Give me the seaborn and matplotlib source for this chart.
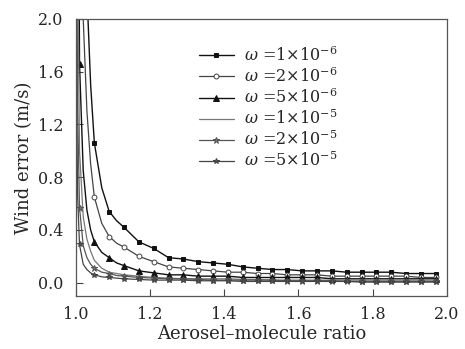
import seaborn as sns
import pandas as pd
import matplotlib.pyplot as plt
import numpy as np

# aerosol-molecule ratio sample positions
ratio = [1.002, 1.005, 1.01, 1.02, 1.03, 1.04, 1.05, 1.07, 1.09, 1.11, 1.13,
         1.17, 1.21, 1.25, 1.29, 1.33, 1.37, 1.41, 1.45, 1.49, 1.53, 1.57,
         1.61, 1.65, 1.69, 1.73, 1.77, 1.81, 1.85, 1.89, 1.93, 1.97]
marker_idx = [2, 6, 8, 10] + list(range(11, 32))

err_1e6 = [40, 20, 8, 3.6, 2.2, 1.5, 1.06, 0.72, 0.54, 0.47, 0.42, 0.31, 0.26, 0.19, 0.18, 0.16,
           0.15, 0.14, 0.12, 0.11, 0.10, 0.10, 0.09, 0.09, 0.09, 0.08, 0.08, 0.08, 0.08, 0.07, 0.07, 0.07]
err_2e6 = [30, 12, 4.5, 2.0, 1.3, 0.9, 0.65, 0.45, 0.35, 0.30, 0.27, 0.20, 0.16, 0.12, 0.11, 0.10,
           0.09, 0.08, 0.08, 0.07, 0.07, 0.06, 0.06, 0.06, 0.05, 0.05, 0.05, 0.05, 0.05, 0.05, 0.04, 0.04]
err_5e6 = [12, 5, 1.66, 0.85, 0.55, 0.40, 0.31, 0.23, 0.19, 0.15, 0.13, 0.09, 0.075, 0.06, 0.06, 0.05,
           0.05, 0.05, 0.04, 0.04, 0.04, 0.04, 0.04, 0.04, 0.03, 0.03, 0.03, 0.03, 0.03, 0.03, 0.03, 0.03]
err_1e5 = [6, 2.5, 1.0, 0.5, 0.33, 0.24, 0.17, 0.11, 0.08, 0.07, 0.06, 0.05, 0.04, 0.035, 0.03, 0.03,
           0.03, 0.03, 0.025, 0.025, 0.02, 0.02, 0.02, 0.02, 0.02, 0.02, 0.02, 0.02, 0.02, 0.02, 0.02, 0.02]
err_2e5 = [3.0, 1.3, 0.57, 0.28, 0.19, 0.14, 0.11, 0.08, 0.07, 0.055, 0.05, 0.04, 0.035, 0.03, 0.03, 0.025,
           0.02, 0.02, 0.02, 0.02, 0.02, 0.015, 0.015, 0.015, 0.015, 0.01, 0.01, 0.01, 0.01, 0.01, 0.01, 0.01]
err_5e5 = [1.5, 0.65, 0.29, 0.14, 0.10, 0.075, 0.06, 0.045, 0.04, 0.035, 0.03, 0.025, 0.02, 0.02, 0.02, 0.015,
           0.015, 0.015, 0.01, 0.01, 0.01, 0.01, 0.01, 0.01, 0.01, 0.01, 0.005, 0.005, 0.005, 0.005, 0.005, 0.005]

labels = [r'$\omega$ =1$\times$10$^{-6}$', r'$\omega$ =2$\times$10$^{-6}$', r'$\omega$ =5$\times$10$^{-6}$',
          r'$\omega$ =1$\times$10$^{-5}$', r'$\omega$ =2$\times$10$^{-5}$', r'$\omega$ =5$\times$10$^{-5}$']
series = [err_1e6, err_2e6, err_5e6, err_1e5, err_2e5, err_5e5]

styles = [
    dict(color='#111111', marker='s', markersize=3.5, mfc='#111111', lw=1.0),
    dict(color='#444444', marker='o', markersize=3.5, mfc='white', lw=0.9),
    dict(color='#111111', marker='^', markersize=4.5, mfc='#111111', lw=1.0),
    dict(color='#777777', marker=None, markersize=0, mfc='none', lw=0.9),
    dict(color='#555555', marker='*', markersize=5, mfc='#777777', lw=0.9),
    dict(color='#444444', marker='*', markersize=4, mfc='#555555', lw=0.9),
]

sns.set_style('ticks')
plt.rcParams['font.family'] = ['DejaVu Serif']
plt.rcParams['mathtext.fontset'] = 'dejavuserif'

fig, ax = plt.subplots(figsize=(4.65, 3.49), dpi=100)
fig.subplots_adjust(left=0.163, right=0.961, top=0.946, bottom=0.152)

for vals, lab, st in zip(series, labels, styles):
    df = pd.DataFrame({'ratio': ratio, 'err': vals})
    sns.lineplot(data=df, x='ratio', y='err', ax=ax, label=lab, color=st['color'],
                 linewidth=st['lw'], marker=st['marker'], markersize=st['markersize'],
                 markerfacecolor=st['mfc'], markeredgecolor=st['color'], markeredgewidth=0.7,
                 markevery=marker_idx if st['marker'] else None)

ax.set_xlim(1.0, 1.99)
ax.set_ylim(-0.1, 2.0)
ax.set_xticks(np.arange(1.0, 2.01, 0.2))
ax.set_yticks(np.arange(0.0, 2.01, 0.4))
ax.set_xticklabels(['1.0', '1.2', '1.4', '1.6', '1.8', '2.0'])
ax.set_yticklabels(['0.0', '0.4', '0.8', '1.2', '1.6', '2.0'])
ax.tick_params(direction='in', length=5, width=0.8, labelsize=11.5, color='#444444')
ax.tick_params(axis='x', pad=7)
ax.tick_params(axis='y', pad=9)
for sp in ax.spines.values():
    sp.set_color('#555555')
    sp.set_linewidth(0.9)
    sp.set_visible(True)

ax.set_xlabel('Aerosel\u2013molecule ratio', fontsize=13, labelpad=2)
ax.set_ylabel('Wind error (m/s)', fontsize=13, labelpad=3)

ax.legend(loc='upper left', bbox_to_anchor=(0.31, 0.93), frameon=False, fontsize=11.5,
          handlelength=2.2, labelspacing=0.15, handletextpad=0.6, borderpad=0)

plt.savefig('out.png', dpi=100)
plt.close()
